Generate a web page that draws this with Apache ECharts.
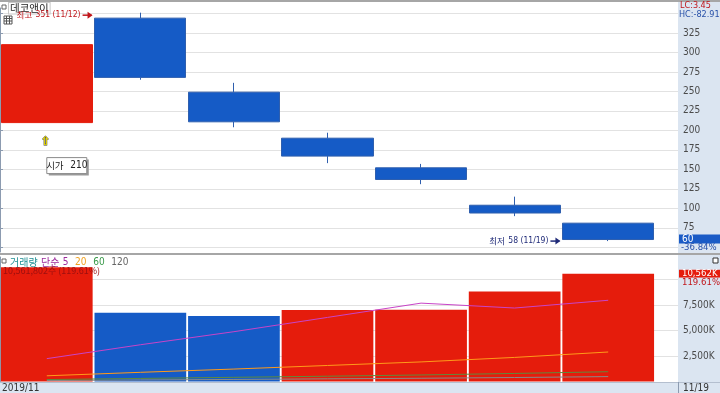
<!DOCTYPE html>
<html><head><meta charset="utf-8">
<script src="https://cdn.jsdelivr.net/npm/echarts@6/dist/echarts.min.js"></script>
<style>html,body{margin:0;padding:0;background:#fff}#c{width:720px;height:393px}</style>
</head><body><div id="c"></div>
<script>
// ---- data ----
const dates = ['11/11','11/12','11/13','11/14','11/15','11/18','11/19'];
const opens  = [210, 344, 249, 190, 152, 104, 81];
const closes = [310, 268, 211, 167, 137, 94, 60];
const lows   = [210, 265, 204, 158, 131, 90, 58];
const highs  = [310, 351, 261, 197, 157, 115, 81];
const volumesK = [11200, 6745, 6420, 7000, 7020, 8830, 10562];
const ma5   = [2240, 3600, 4880, 6280, 7680, 7200, 7960];
const ma20  = [560, 900, 1220, 1570, 1920, 2360, 2890];
const ma60  = [190, 300, 410, 520, 640, 790, 960];
const ma120 = [90, 150, 200, 260, 320, 390, 480];
const priceLabels = [75,100,125,150,175,200,225,250,275,300,325];
const priceLines  = [50,75,100,125,150,175,200,225,250,275,300,325,350];
const volumeLabels = [2500,5000,7500];
const volumeLines  = [2500,5000,7500,10000];

// ---- styles ----
const RED = '#e51c0c', BLUE = '#155bc6';
const NUMFONT = '"Liberation Sans Narrow","DejaVu Sans Condensed","Liberation Sans",sans-serif';
const KFONT = '"Noto Sans CJK KR","Noto Sans",sans-serif';
const PMIN = 44, PMAX = 357, VMAX = 12200;

const chart = echarts.init(document.getElementById('c'), null, {renderer:'canvas'});
const gridLineStyle = {show:true, lineStyle:{color:'#e2e2e2', width:1}};

const option = {
  animation:false,
  backgroundColor:'transparent',
  grid:[
    {left:0, right:42, top:8, height:244},
    {left:0, width:655, top:8, height:244},
    {left:0, right:42, top:257, height:124.5},
    {left:0, width:655, top:257, height:124.5}
  ],
  xAxis:[
    {type:'value', gridIndex:0, min:0, max:1, show:false},
    {type:'category', gridIndex:1, data:dates, show:false, boundaryGap:true},
    {type:'value', gridIndex:2, min:0, max:1, show:false},
    {type:'category', gridIndex:3, data:dates, show:false, boundaryGap:true}
  ],
  yAxis:[
    {type:'value', gridIndex:0, position:'right', min:PMIN, max:PMAX,
     axisLine:{show:true, lineStyle:{color:'#8c9bb0'}},
     axisTick:{show:true, length:3, customValues:priceLines, lineStyle:{color:'#8c9bb0'}},
     axisLabel:{show:true, customValues:priceLabels, margin:5, color:'#4a4a4a', fontSize:10, fontFamily:NUMFONT},
     splitLine:gridLineStyle},
    {type:'value', gridIndex:1, min:PMIN, max:PMAX, show:false, splitLine:{show:false}},
    {type:'value', gridIndex:2, position:'right', min:0, max:VMAX,
     axisLine:{show:true, lineStyle:{color:'#8c9bb0'}},
     axisTick:{show:true, length:3, customValues:volumeLines, lineStyle:{color:'#8c9bb0'}},
     axisLabel:{show:true, customValues:volumeLabels, margin:5, color:'#4a4a4a', fontSize:10, fontFamily:NUMFONT,
       formatter:v=>v.toLocaleString('en-US')+'K'},
     splitLine:gridLineStyle},
    {type:'value', gridIndex:3, min:0, max:VMAX, show:false, splitLine:{show:false}}
  ],
  series:[
    {type:'candlestick', xAxisIndex:1, yAxisIndex:1, barWidth:'98%', clip:false,
     data:dates.map((d,i)=>[opens[i], closes[i], lows[i], highs[i]]),
     itemStyle:{color:RED, color0:BLUE, borderColor:RED, borderColor0:'#2f5fae', borderWidth:1}},
    {type:'bar', xAxisIndex:3, yAxisIndex:3, barWidth:'98%',
     data:volumesK.map((v,i)=>({value:v, itemStyle:{color:(i===0||v>=volumesK[i-1])?RED:BLUE}}))},
    {type:'line', xAxisIndex:3, yAxisIndex:3, data:ma120, showSymbol:false, lineStyle:{color:'#8a8a8a', width:1}},
    {type:'line', xAxisIndex:3, yAxisIndex:3, data:ma60, showSymbol:false, lineStyle:{color:'#5f8a3c', width:1}},
    {type:'line', xAxisIndex:3, yAxisIndex:3, data:ma20, showSymbol:false, lineStyle:{color:'#ff9a1a', width:1}},
    {type:'line', xAxisIndex:3, yAxisIndex:3, data:ma5, showSymbol:false, lineStyle:{color:'#c844c8', width:1}}
  ]
};
chart.setOption(option);

// ---- annotations positioned via the chart's own scales ----
const px = (i, v) => chart.convertToPixel({xAxisIndex:1, yAxisIndex:1}, [i, v]);
const vpx = (i, v) => chart.convertToPixel({xAxisIndex:3, yAxisIndex:3}, [i, v]);
let hiIdx = 0, loIdx = 0;
highs.forEach((h,i)=>{ if (h > highs[hiIdx]) hiIdx = i; });
lows.forEach((l,i)=>{ if (l < lows[loIdx]) loIdx = i; });
const catW = 655 / dates.length;
const hiP = px(hiIdx, highs[hiIdx]);
const loP = px(loIdx, lows[loIdx]);
const openP = px(0, opens[0]);
const lastP = px(dates.length-1, closes[closes.length-1]);
const lastVolP = vpx(dates.length-1, volumesK[volumesK.length-1]);
const last = closes[closes.length-1];
const lastVol = volumesK[volumesK.length-1];
const prevVol = volumesK[volumesK.length-2];

const g = [];
// backgrounds
g.push({type:'rect', z:-10, shape:{x:0,y:0,width:720,height:393}, style:{fill:'#fff'}});
g.push({type:'rect', z:-9, shape:{x:678,y:0,width:42,height:393}, style:{fill:'#dbe5f1'}});
g.push({type:'rect', z:-9, shape:{x:0,y:382,width:720,height:11}, style:{fill:'#dbe5f1'}});
g.push({type:'line', z:5, shape:{x1:0,y1:1,x2:720,y2:1}, style:{stroke:'#a6a6a6', lineWidth:2}});
g.push({type:'line', z:5, shape:{x1:0,y1:254,x2:720,y2:254}, style:{stroke:'#a6a6a6', lineWidth:2}});
g.push({type:'line', z:5, shape:{x1:0,y1:382.5,x2:720,y2:382.5}, style:{stroke:'#b4bfcf', lineWidth:1}});
g.push({type:'line', z:5, shape:{x1:678.5,y1:382,x2:678.5,y2:393}, style:{stroke:'#8c9bb0', lineWidth:1}});
// title
g.push({type:'rect', z:5, shape:{x:2,y:5,width:4,height:4}, style:{fill:'#fff', stroke:'#666', lineWidth:1}});
g.push({type:'text', z:5, x:9, y:3, style:{text:'데코앤이', font:'10.5px '+KFONT, fill:'#222', backgroundColor:'#fff', borderColor:'#c8c8c8', borderWidth:1, padding:[0,1]}});
g.push({type:'rect', z:5, shape:{x:4,y:16,width:8,height:8}, style:{fill:'#fff', stroke:'#555', lineWidth:1}});
g.push({type:'line', z:5, shape:{x1:4,y1:18.5,x2:12,y2:18.5}, style:{stroke:'#555'}});
g.push({type:'line', z:5, shape:{x1:4,y1:21,x2:12,y2:21}, style:{stroke:'#555'}});
g.push({type:'line', z:5, shape:{x1:6.5,y1:16,x2:6.5,y2:24}, style:{stroke:'#555'}});
g.push({type:'line', z:5, shape:{x1:9.5,y1:16,x2:9.5,y2:24}, style:{stroke:'#555'}});
// high annotation
const richAnn = (col) => ({k:{fill:col, font:'8.5px '+KFONT}, n:{fill:col, font:'8.5px '+NUMFONT}});
g.push({type:'text', z:6, x:hiP[0]-catW/2-13, y:hiP[1]+2.5, style:{
  text:'{k|최고} {n|'+highs[hiIdx]+' ('+dates[hiIdx]+')}', align:'right', verticalAlign:'middle', rich:richAnn('#c0161b')}});
g.push({type:'line', z:6, shape:{x1:hiP[0]-catW/2-11,y1:hiP[1]+2.5,x2:hiP[0]-catW/2-2,y2:hiP[1]+2.5}, style:{stroke:'#c0161b', lineWidth:1.5}});
g.push({type:'polygon', z:6, shape:{points:[[hiP[0]-catW/2-1,hiP[1]+2.5],[hiP[0]-catW/2-6,hiP[1]-1]
  ,[hiP[0]-catW/2-6,hiP[1]+6]]}, style:{fill:'#c0161b'}});
// low annotation
g.push({type:'text', z:6, x:loP[0]-catW/2-13, y:loP[1], style:{
  text:'{k|최저} {n|'+lows[loIdx]+' ('+dates[loIdx]+')}', align:'right', verticalAlign:'middle', rich:richAnn('#1f2a78')}});
g.push({type:'line', z:6, shape:{x1:loP[0]-catW/2-11,y1:loP[1],x2:loP[0]-catW/2-2,y2:loP[1]}, style:{stroke:'#1f2a78', lineWidth:1.5}});
g.push({type:'polygon', z:6, shape:{points:[[loP[0]-catW/2-1,loP[1]],[loP[0]-catW/2-6,loP[1]-3.5],[loP[0]-catW/2-6,loP[1]+3.5]]}, style:{fill:'#1f2a78'}});
// open annotation
g.push({type:'text', z:6, x:openP[0]-1, y:openP[1]+19, style:{text:'⇧', font:'bold 12px "DejaVu Sans",sans-serif', fill:'#f4e400', stroke:'#333', lineWidth:0.8, align:'center', verticalAlign:'middle'}});
g.push({type:'rect', z:6, shape:{x:openP[0]+2,y:openP[1]+37,width:40,height:16}, style:{fill:'#9a9a9a'}});
g.push({type:'rect', z:6, shape:{x:openP[0],y:openP[1]+35,width:40,height:16}, style:{fill:'#fff', stroke:'#8a8a8a', lineWidth:1}});
g.push({type:'text', z:7, x:openP[0]+20, y:openP[1]+43, style:{text:'{k|시가}  {n|'+opens[0]+'}', align:'center', verticalAlign:'middle',
  rich:{k:{fill:'#222', font:'9.5px '+KFONT}, n:{fill:'#222', font:'10px '+NUMFONT}}}});
// right strip texts
g.push({type:'text', z:6, x:680, y:5.5, style:{text:'LC:3.45', font:'9px '+NUMFONT, fill:'#c0161b', verticalAlign:'middle'}});
g.push({type:'text', z:6, x:679, y:14.5, style:{text:'HC:-82.91', font:'9px '+NUMFONT, fill:'#2750a8', verticalAlign:'middle'}});
g.push({type:'rect', z:6, shape:{x:679,y:lastP[1]-5,width:41,height:9}, style:{fill:'#1a5bc6'}});
g.push({type:'text', z:7, x:682, y:lastP[1]-0.5, style:{text:String(last), font:'10px '+NUMFONT, fill:'#fff', verticalAlign:'middle'}});
g.push({type:'text', z:7, x:681, y:lastP[1]+8.5, style:{text:'-36.84%', font:'9.5px '+NUMFONT, fill:'#2750a8', verticalAlign:'middle'}});
g.push({type:'rect', z:6, shape:{x:679,y:lastVolP[1]-4,width:41,height:8}, style:{fill:'#e51c0c'}});
g.push({type:'text', z:7, x:682, y:lastVolP[1], style:{text:lastVol.toLocaleString('en-US')+'K', font:'9.5px '+NUMFONT, fill:'#fff', verticalAlign:'middle'}});
g.push({type:'rect', z:6, shape:{x:679,y:lastVolP[1]+4,width:41,height:9}, style:{fill:'#dbe5f1'}});
g.push({type:'text', z:7, x:682, y:lastVolP[1]+8.5, style:{text:(lastVol/prevVol*100).toFixed(2)+'%', font:'9.5px '+NUMFONT, fill:'#c0161b', verticalAlign:'middle'}});
g.push({type:'rect', z:6, shape:{x:713,y:258,width:5,height:5}, style:{fill:'#fff', stroke:'#333', lineWidth:1}});
// volume legend
g.push({type:'rect', z:6, shape:{x:2,y:259,width:4,height:4}, style:{fill:'#fff', stroke:'#666', lineWidth:1}});
g.push({type:'text', z:6, x:10, y:262, style:{
  text:'{a|거래량} {b|단순} {n|5}  {c|20}  {d|60}  {e|120}',
  verticalAlign:'middle',
  rich:{a:{fill:'#1f8f94', font:'10px '+KFONT}, b:{fill:'#9c2a9c', font:'10px '+KFONT}, n:{fill:'#9c2a9c', font:'10px '+NUMFONT},
        c:{fill:'#f0a020', font:'10px '+NUMFONT}, d:{fill:'#3a9a4a', font:'10px '+NUMFONT}, e:{fill:'#666', font:'10px '+NUMFONT}}}});
g.push({type:'text', z:6, x:3, y:271, style:{text:'10,561,802주 (119.61%)', font:'9px '+KFONT, fill:'#9b1010', verticalAlign:'middle'}});
// bottom strip
g.push({type:'text', z:6, x:2, y:388, style:{text:'2019/11', font:'10px '+NUMFONT, fill:'#333', verticalAlign:'middle'}});
g.push({type:'text', z:6, x:683, y:388, style:{text:dates[dates.length-1], font:'10px '+NUMFONT, fill:'#333', verticalAlign:'middle'}});

chart.setOption({graphic:{elements:g}});
</script>
</body></html>
